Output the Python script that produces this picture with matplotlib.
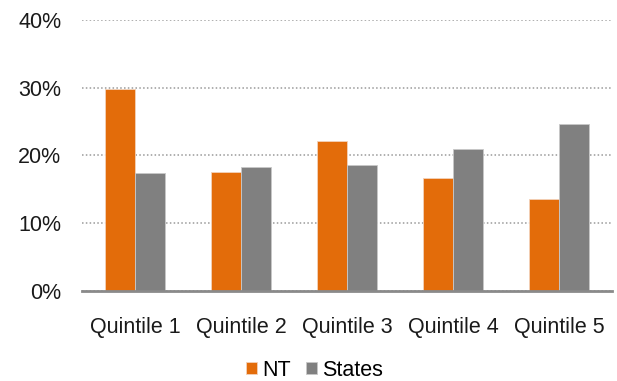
import matplotlib.pyplot as plt
import numpy as np

plt.rcParams['font.family'] = ['Liberation Sans', 'DejaVu Sans']

categories = ["Quintile 1", "Quintile 2", "Quintile 3", "Quintile 4", "Quintile 5"]
nt = [29.8, 17.6, 22.1, 16.7, 13.6]
states = [17.4, 18.3, 18.5, 20.9, 24.6]

fig = plt.figure(figsize=(6.17, 3.81), dpi=100)
ax = fig.add_axes([0.133, 0.237, 0.859, 0.711])

x = np.arange(len(categories))
w = 0.283
ax.bar(x - w / 2, nt, w, color="#E36C0A", edgecolor="#F3D2BA", linewidth=0.6, label="NT", zorder=3)
ax.bar(x + w / 2, states, w, color="#808080", edgecolor="#C8C8C8", linewidth=0.6, label="States", zorder=3)

ax.set_xlim(-0.5, len(categories) - 0.5)
ax.set_ylim(0, 40)
ax.set_yticks([0, 10, 20, 30, 40])
ax.set_yticklabels([f"{v}%" for v in [0, 10, 20, 30, 40]])
ax.set_xticks(x)
ax.set_xticklabels(categories)
ax.tick_params(axis="both", length=0, labelsize=15.5, colors="#1a1a1a")
ax.tick_params(axis="x", pad=19)
ax.tick_params(axis="y", pad=15)

ax.yaxis.grid(True, linestyle=(0, (1, 1.5)), color="#9a9a9a", linewidth=1.1, zorder=0)
for s in ["top", "right", "left"]:
    ax.spines[s].set_visible(False)
ax.spines["bottom"].set_color("#8a8a8a")
ax.spines["bottom"].set_linewidth(2)
ax.spines["bottom"].set_zorder(4)

fig.legend(loc="center", bbox_to_anchor=(0.51, 1 - 370 / 381), ncol=2, frameon=False,
           fontsize=15.5, handlelength=0.5, handleheight=0.5, handletextpad=0.25,
           columnspacing=0.7)

fig.savefig("out.png", dpi=100)
